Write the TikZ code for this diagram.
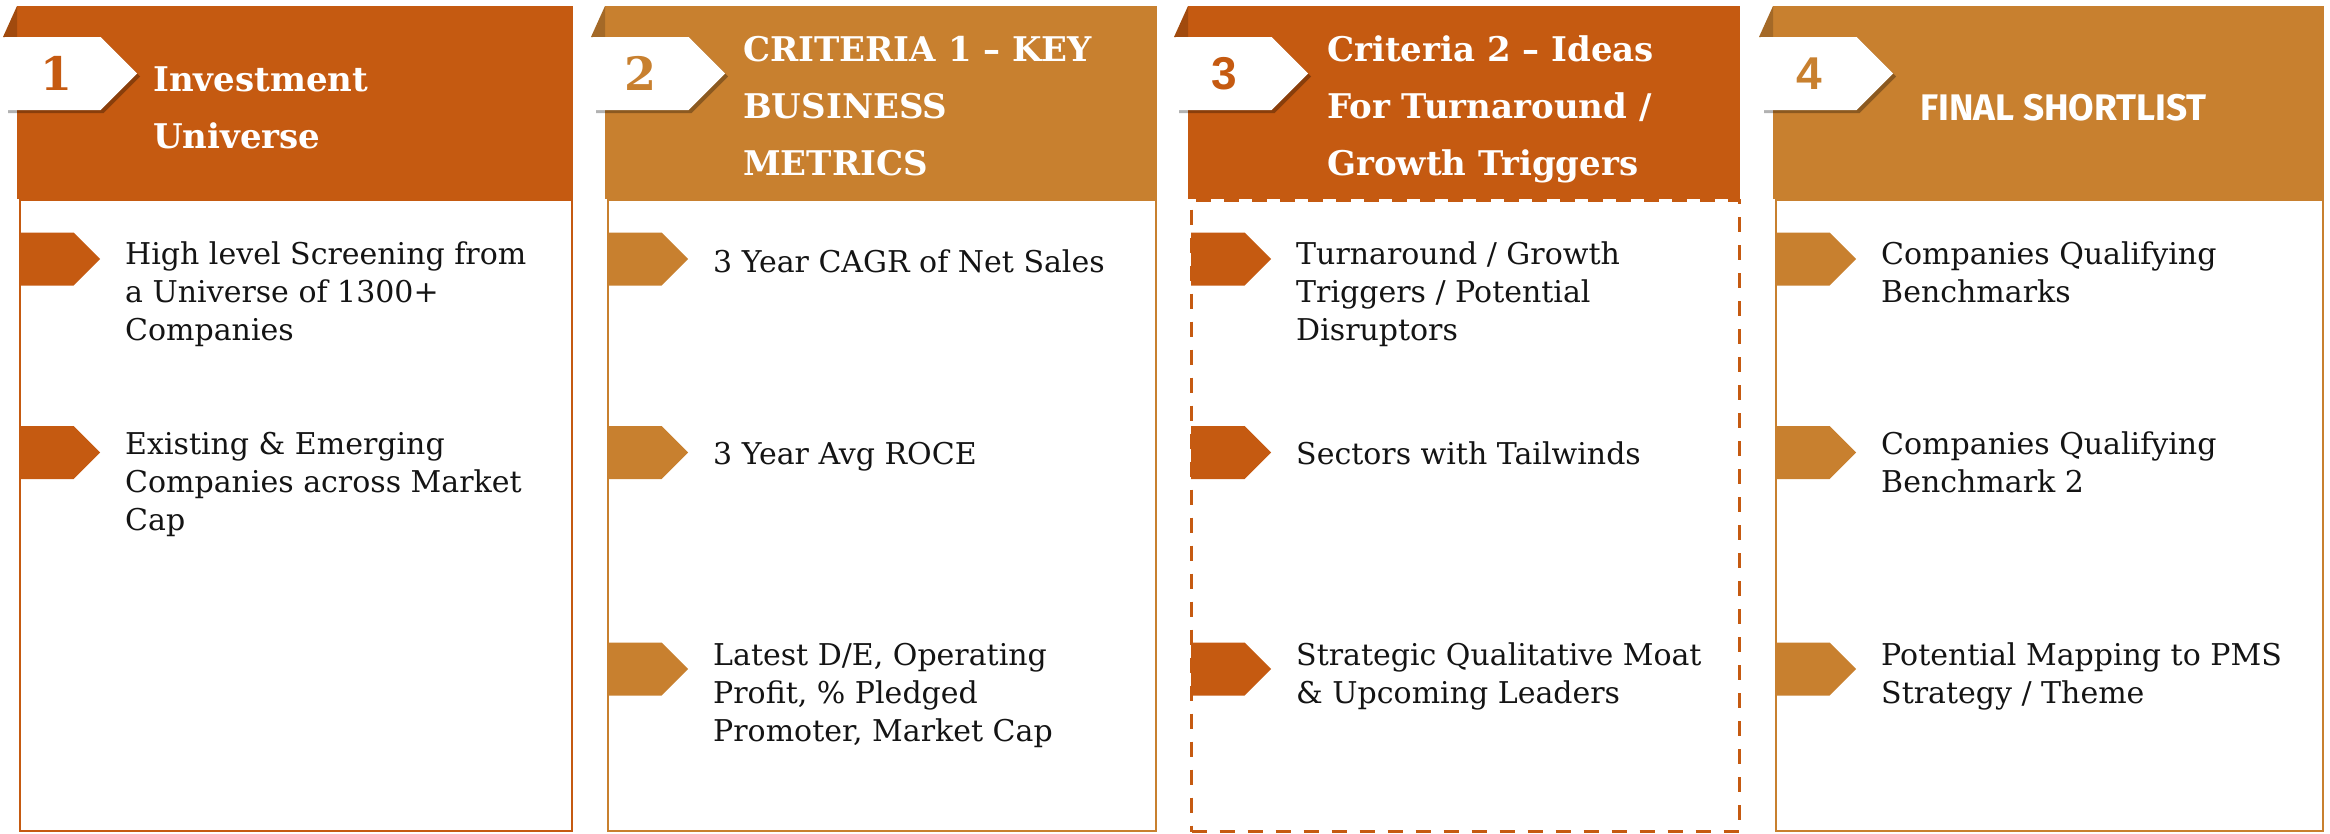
\documentclass[tikz,border=0pt]{standalone}
\usepackage{fontspec}
\setmainfont{DejaVu Serif}
\newfontfamily\numsans{Liberation Sans}
\newfontfamily\finalfont{Fira Sans}
\usetikzlibrary{shadows,shapes.symbols}
\definecolor{dk}{HTML}{C55A11}
\definecolor{lt}{HTML}{C8802F}
\tikzset{
  bodybox/.style={fill=white, line width=2pt, inner sep=0pt, rectangle},
  dashbody/.style={line width=3pt, dash pattern=on 15pt off 13pt},
  badge/.style={signal, signal to=east, signal pointer angle=90, fill=white, inner sep=0pt,
    minimum width=132pt, minimum height=73pt, anchor=west,
    drop shadow={shadow xshift=3pt, shadow yshift=-3pt, opacity=0.3, fill=black}},
  bullet/.style={signal, signal to=east, signal pointer angle=90, fill=#1, inner sep=0pt,
    minimum width=80pt, minimum height=53pt, anchor=west},
  item/.style={inner sep=0pt, anchor=base west, text=black!92, font=\fontsize{30}{38}\selectfont},
  title/.style={inner sep=0pt, anchor=base west, text=white, font=\fontsize{34}{57}\selectfont\bfseries},
  num/.style={inner sep=0pt, text=#1}
}
\newcommand\panel[5]{%
  \node[bodybox, draw=#4, #5, minimum width={#3-#2-4}, minimum height=631pt, anchor=north west] (body#1) at (#2+2,199) {};
  \node[fill=#4, rectangle, inner sep=0pt, minimum width={#3-#2}, minimum height=193pt, anchor=north west] (head#1) at (#2,6) {};
  \fill[#4!82!black] (head#1.north west) -- ++(-14,31) -- ++(14,0) -- cycle;
  \node[badge] (badge#1) at (#2-12,73.5) {};
  \node[bullet=#4] (c#1a) at (#2+3,259) {};
  \node[bullet=#4] (c#1b) at (#2+3,452.5) {};
}
\begin{document}
\begin{tikzpicture}[x=1pt,y=-1pt]
\useasboundingbox (0,0) rectangle (2330,833);
\fill[white] (0,0) rectangle (2330,833);

% Panel 1
\panel{1}{17}{573}{dk}{}
\node[num=dk, font=\fontsize{46}{46}\selectfont\bfseries] (n1) at ([xshift=4pt]badge1.center) {1};
\node[title] (h1t) at (153,91) {\begin{tabular}[t]{@{}l@{}}Investment\\Universe\end{tabular}};
\node[item] (t1a) at (125,264) {\begin{tabular}[t]{@{}l@{}}High level Screening from\\a Universe of 1300+\\Companies\end{tabular}};
\node[item] (t1b) at (125,454) {\begin{tabular}[t]{@{}l@{}}Existing \& Emerging\\Companies across Market\\Cap\end{tabular}};

% Panel 2
\panel{2}{605}{1157}{lt}{}
\node[bullet=lt] (c2c) at (608,669) {};
\node[num=lt, font=\fontsize{46}{46}\selectfont\bfseries] (n2) at ([xshift=0pt]badge2.center) {2};
\node[title] (h2t) at (743,61) {\begin{tabular}[t]{@{}l@{}}CRITERIA 1 \textendash{} KEY\\BUSINESS\\METRICS\end{tabular}};
\node[item] (t2a) at (713,272) {3 Year CAGR of Net Sales};
\node[item] (t2b) at (713,464) {3 Year Avg ROCE};
\node[item] (t2c) at (713,665) {\begin{tabular}[t]{@{}l@{}}Latest D/E, Operating\\Profit, \% Pledged\\Promoter, Market Cap\end{tabular}};

% Panel 3
\panel{3}{1188}{1740}{dk}{dashbody}
\node[bullet=dk] (c3c) at (1191,669) {};
\node[num=dk, font=\fontsize{46}{46}\selectfont\numsans\bfseries] (n3) at ([xshift=0pt]badge3.center) {3};
\node[title] (h3t) at (1327,61) {\begin{tabular}[t]{@{}l@{}}Criteria 2 \textendash{} Ideas\\For Turnaround /\\Growth Triggers\end{tabular}};
\node[item] (t3a) at (1296,264) {\begin{tabular}[t]{@{}l@{}}Turnaround / Growth\\Triggers / Potential\\Disruptors\end{tabular}};
\node[item] (t3b) at (1296,464) {Sectors with Tailwinds};
\node[item] (t3c) at (1296,665) {\begin{tabular}[t]{@{}l@{}}Strategic Qualitative Moat\\\& Upcoming Leaders\end{tabular}};

% Panel 4
\panel{4}{1773}{2324}{lt}{}
\node[bullet=lt] (c4c) at (1776,669) {};
\node[num=lt, font=\fontsize{46}{46}\selectfont\numsans\bfseries] (n4) at ([xshift=0pt]badge4.center) {4};
\node[inner sep=0pt, anchor=base west, text=white, font=\fontsize{37}{44}\selectfont\finalfont\bfseries] (h4t) at (1920,120) {FINAL SHORTLIST};
\node[item] (t4a) at (1881,264) {\begin{tabular}[t]{@{}l@{}}Companies Qualifying\\Benchmarks\end{tabular}};
\node[item] (t4b) at (1881,454) {\begin{tabular}[t]{@{}l@{}}Companies Qualifying\\Benchmark 2\end{tabular}};
\node[item] (t4c) at (1881,665) {\begin{tabular}[t]{@{}l@{}}Potential Mapping to PMS\\Strategy / Theme\end{tabular}};
\end{tikzpicture}
\end{document}
